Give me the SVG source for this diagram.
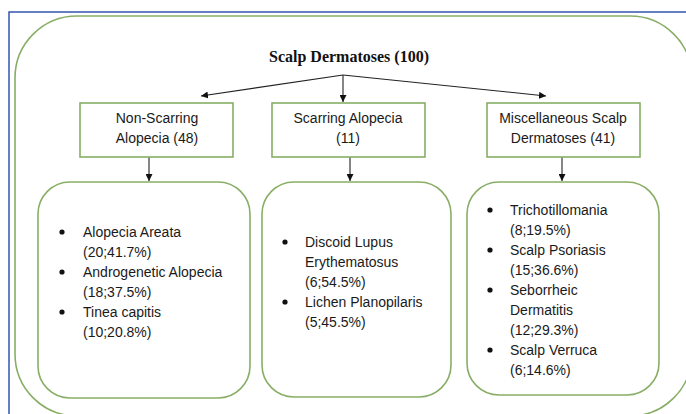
<svg xmlns="http://www.w3.org/2000/svg" width="686" height="414" viewBox="0 0 686 414">
<defs>
<marker id="ah" viewBox="0 0 10 10" refX="10" refY="5" markerWidth="7" markerHeight="7" markerUnits="userSpaceOnUse" orient="auto">
<path d="M0,0 L10,5 L0,10 z" fill="#111"/>
</marker>
<style>
.g{fill:#fff;stroke:#88ae66;stroke-width:1.6}
.t{font-family:"Liberation Sans",Arial,sans-serif;font-size:14px;fill:#1a1a1a}
.c{text-anchor:middle}
.ttl{font-family:"Liberation Serif","Times New Roman",serif;font-size:16px;font-weight:bold;fill:#111;text-anchor:middle}
.b{fill:#111}
.ln{stroke:#222;stroke-width:1.1;fill:none;marker-end:url(#ah)}
</style>
</defs>
<rect width="686" height="414" fill="#fff"/>
<rect x="9" y="12" width="700" height="420" fill="none" stroke="#3556b0" stroke-width="1.5"/>
<g id="outer">
<rect class="g" x="15" y="16" width="677" height="400" rx="62" ry="62"/>
</g>
<g id="root">
<text class="ttl" x="349" y="62">Scalp Dermatoses (100)</text>
</g>
<g id="connectors">
<path class="ln" d="M343,75 L201,96"/>
<path class="ln" d="M343,75 L343,102"/>
<path class="ln" d="M343,75 L546,96"/>
<path class="ln" d="M149,157 L149,181"/>
<path class="ln" d="M350,157 L350,181"/>
<path class="ln" d="M562,157 L562,181"/>
</g>
<g id="non-scarring">
<rect class="g" x="80" y="103" width="153" height="54"/>
<text class="t c" x="157" y="123">Non-Scarring</text>
<text class="t c" x="157" y="143">Alopecia (48)</text>
</g>
<g id="scarring">
<rect class="g" x="272" y="103" width="153" height="54"/>
<text class="t c" x="348" y="123">Scarring Alopecia</text>
<text class="t c" x="348" y="143">(11)</text>
</g>
<g id="misc">
<rect class="g" x="487" y="103" width="153" height="54"/>
<text class="t c" x="563" y="123">Miscellaneous Scalp</text>
<text class="t c" x="563" y="143">Dermatoses (41)</text>
</g>
<g id="non-scarring-list">
<rect class="g" x="38" y="182" width="212" height="216" rx="32" ry="32"/>
<circle class="b" cx="62" cy="232" r="2.6"/>
<circle class="b" cx="62" cy="272" r="2.6"/>
<circle class="b" cx="62" cy="312" r="2.6"/>
<text class="t" x="83" y="237">Alopecia Areata</text>
<text class="t" x="83" y="257">(20;41.7%)</text>
<text class="t" x="83" y="277">Androgenetic Alopecia</text>
<text class="t" x="83" y="297">(18;37.5%)</text>
<text class="t" x="83" y="317">Tinea capitis</text>
<text class="t" x="83" y="337">(10;20.8%)</text>
</g>
<g id="scarring-list">
<rect class="g" x="262" y="182" width="189" height="215" rx="32" ry="32"/>
<circle class="b" cx="285" cy="242" r="2.6"/>
<circle class="b" cx="285" cy="302" r="2.6"/>
<text class="t" x="305" y="247">Discoid Lupus</text>
<text class="t" x="305" y="267">Erythematosus</text>
<text class="t" x="305" y="287">(6;54.5%)</text>
<text class="t" x="305" y="307">Lichen Planopilaris</text>
<text class="t" x="305" y="327">(5;45.5%)</text>
</g>
<g id="misc-list">
<rect class="g" x="467" y="182" width="192" height="213" rx="32" ry="32"/>
<circle class="b" cx="490" cy="210" r="2.6"/>
<circle class="b" cx="490" cy="250" r="2.6"/>
<circle class="b" cx="490" cy="290" r="2.6"/>
<circle class="b" cx="490" cy="350" r="2.6"/>
<text class="t" x="510" y="215">Trichotillomania</text>
<text class="t" x="510" y="235">(8;19.5%)</text>
<text class="t" x="510" y="255">Scalp Psoriasis</text>
<text class="t" x="510" y="275">(15;36.6%)</text>
<text class="t" x="510" y="295">Seborrheic</text>
<text class="t" x="510" y="315">Dermatitis</text>
<text class="t" x="510" y="335">(12;29.3%)</text>
<text class="t" x="510" y="355">Scalp Verruca</text>
<text class="t" x="510" y="375">(6;14.6%)</text>
</g>
</svg>
